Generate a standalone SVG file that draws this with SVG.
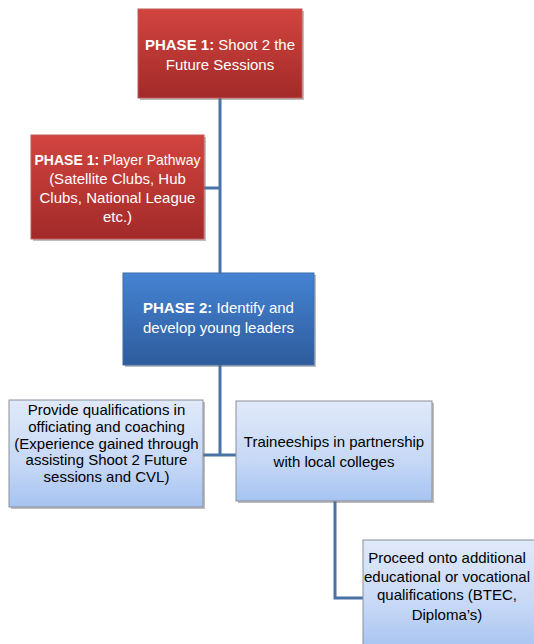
<svg xmlns="http://www.w3.org/2000/svg" width="534" height="644" viewBox="0 0 534 644">
<defs>
<linearGradient id="gRed" x1="0" y1="0" x2="0" y2="1"><stop offset="0" stop-color="#d2443f"/><stop offset="1" stop-color="#a22a29"/></linearGradient>
<linearGradient id="gBlue" x1="0" y1="0" x2="0" y2="1"><stop offset="0" stop-color="#4583d3"/><stop offset="1" stop-color="#2e5c9c"/></linearGradient>
<linearGradient id="gLight" x1="0" y1="0" x2="0" y2="1"><stop offset="0" stop-color="#e0e9f9"/><stop offset="0.6" stop-color="#c6d8f6"/><stop offset="1" stop-color="#a6c3f1"/></linearGradient>
</defs>
<style>
.red{fill:url(#gRed);stroke:#c05a58;stroke-width:1}
.blue{fill:url(#gBlue);stroke:#3d6aa6;stroke-width:1}
.light{fill:url(#gLight);stroke:#8a8f99;stroke-width:1}
.sh{fill:#6f6f6f;opacity:0.45}
.wt{font-family:"Liberation Sans",Arial,sans-serif;font-size:15px;fill:#ffffff;text-anchor:middle}
.bt{font-family:"Liberation Sans",Arial,sans-serif;font-size:15px;fill:#000000;text-anchor:middle}
.b{font-weight:bold}
.conn{fill:none;stroke:#4b72a6;stroke-width:3}
</style>
<g id="connectors">
<path class="conn" d="M220,98 V273"/>
<path class="conn" d="M204,188 H220"/>
<path class="conn" d="M220,365 V455 M203,455 H236"/>
<path class="conn" d="M335,501 V598 H363"/>
</g>
<g id="n1">
<rect class="sh" x="140" y="11" width="164" height="89"/>
<rect class="red" x="138" y="9" width="164" height="89"/>
<text class="wt" x="220" y="50"><tspan class="b">PHASE 1:</tspan> Shoot 2 the</text>
<text class="wt" x="220" y="70">Future Sessions</text>
</g>
<g id="n2">
<rect class="sh" x="33" y="137" width="173" height="104"/>
<rect class="red" x="31" y="135" width="173" height="104"/>
<text class="wt" x="117.5" y="165" textLength="166" lengthAdjust="spacingAndGlyphs"><tspan class="b">PHASE 1:</tspan> Player Pathway</text>
<text class="wt" x="117.5" y="184">(Satellite Clubs, Hub</text>
<text class="wt" x="117.5" y="203">Clubs, National League</text>
<text class="wt" x="117.5" y="222">etc.)</text>
</g>
<g id="n3">
<rect class="sh" x="125" y="275" width="191" height="92"/>
<rect class="blue" x="123" y="273" width="191" height="92"/>
<text class="wt" x="218.5" y="313"><tspan class="b">PHASE 2:</tspan> Identify and</text>
<text class="wt" x="218.5" y="333">develop young leaders</text>
</g>
<g id="n4">
<rect class="sh" x="11" y="402" width="194" height="107"/>
<rect class="light" x="9" y="400" width="194" height="107"/>
<text class="bt" x="106.5" y="415">Provide qualifications in</text>
<text class="bt" x="106.5" y="432">officiating and coaching</text>
<text class="bt" x="106.5" y="448.5">(Experience gained through</text>
<text class="bt" x="106.5" y="465">assisting Shoot 2 Future</text>
<text class="bt" x="106.5" y="481.5">sessions and CVL)</text>
</g>
<g id="n5">
<rect class="sh" x="238" y="403" width="196" height="100"/>
<rect class="light" x="236" y="401" width="196" height="100"/>
<text class="bt" x="334" y="447">Traineeships in partnership</text>
<text class="bt" x="334" y="467">with local colleges</text>
</g>
<g id="n6">
<rect class="sh" x="365" y="542" width="180" height="110"/>
<rect class="light" x="363" y="540" width="180" height="110"/>
<text class="bt" x="447" y="563">Proceed onto additional</text>
<text class="bt" x="447" y="582">educational or vocational</text>
<text class="bt" x="447" y="600">qualifications (BTEC,</text>
<text class="bt" x="447" y="620">Diploma’s)</text>
</g>
</svg>
